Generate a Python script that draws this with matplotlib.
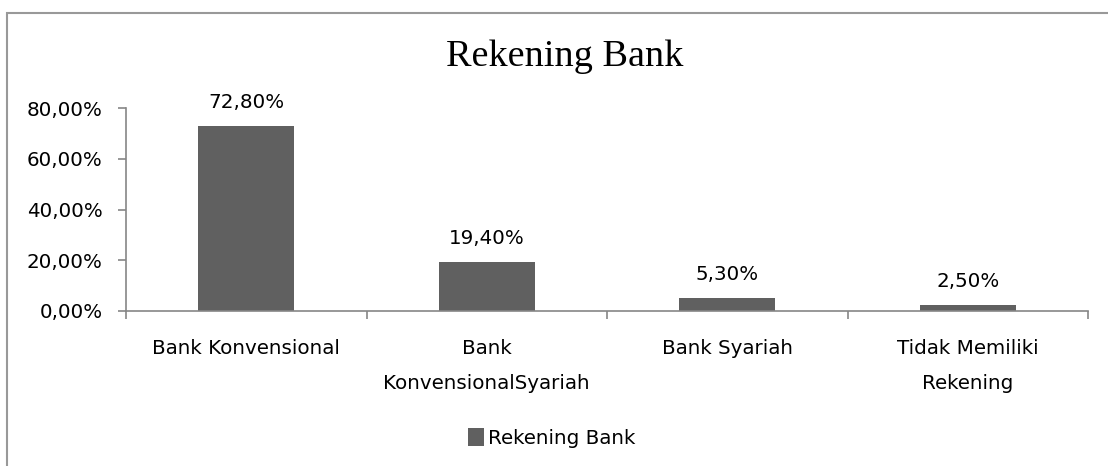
import matplotlib
matplotlib.use("Agg")
import matplotlib.pyplot as plt
from matplotlib.patches import Rectangle

categories = ["Bank Konvensional", "Bank\nKonvensionalSyariah", "Bank Syariah",
              "Tidak Memiliki\nRekening"]
values = [72.80, 19.40, 5.30, 2.50]
yticks = [0, 20, 40, 60, 80]
title = "Rekening Bank"
series_name = "Rekening Bank"

SANS = "DejaVu Sans"
FS = 14.3
BAR = "#606060"
AXIS = "#868686"


def pct(v):
    return f"{v:.2f}%".replace(".", ",")


fig = plt.figure(figsize=(11.08, 4.66), dpi=100)
fig.patch.set_facecolor("white")

# outer chart border (right and bottom edges fall outside the crop)
fig.add_artist(Rectangle((7 / 1108, -0.1), 1.2, (466 - 13) / 466 + 0.1,
                         transform=fig.transFigure, fill=False,
                         edgecolor="#999999", linewidth=1.5))

ax = fig.add_axes([126 / 1108, 155 / 466, (1088 - 126) / 1108, 203 / 466])
x = list(range(len(categories)))
bars = ax.bar(x, values, width=0.4, color=BAR, label=series_name)
ax.set_xlim(-0.5, len(categories) - 0.5)
ax.set_ylim(0, 80)

for xi, v in zip(x, values):
    ax.annotate(pct(v), (xi, v), xytext=(0, 10), textcoords="offset points",
                ha="center", va="bottom", fontsize=FS, family=SANS)

for s in ["top", "right"]:
    ax.spines[s].set_visible(False)
for s in ["left", "bottom"]:
    ax.spines[s].set_color(AXIS)
    ax.spines[s].set_linewidth(1.2)

ax.set_yticks(yticks)
ax.set_yticklabels([pct(t) for t in yticks], family=SANS, fontsize=FS)
ax.tick_params(axis="y", length=6, color=AXIS, width=1.2, pad=11)

# category ticks sit on the boundaries, labels in the middle
ax.set_xticks([i - 0.5 for i in range(len(categories) + 1)])
ax.set_xticklabels([])
ax.set_xticks(x, minor=True)
ax.set_xticklabels(categories, minor=True, family=SANS, fontsize=FS,
                   linespacing=2.05)
ax.tick_params(axis="x", which="major", length=6, color=AXIS, width=1.2)
ax.tick_params(axis="x", which="minor", length=0, pad=20)

fig.text(565 / 1108, 1 - 57 / 466, title, ha="center", va="center",
         fontsize=27.5, family="Liberation Serif")

leg = fig.legend(handles=[bars], labels=[series_name], loc="center",
                 bbox_to_anchor=(552 / 1108, 1 - 438 / 466), frameon=False,
                 prop={"family": SANS, "size": FS}, handlelength=0.8,
                 handleheight=1.0, handletextpad=0.2)

fig.savefig("out.png", dpi=100)
